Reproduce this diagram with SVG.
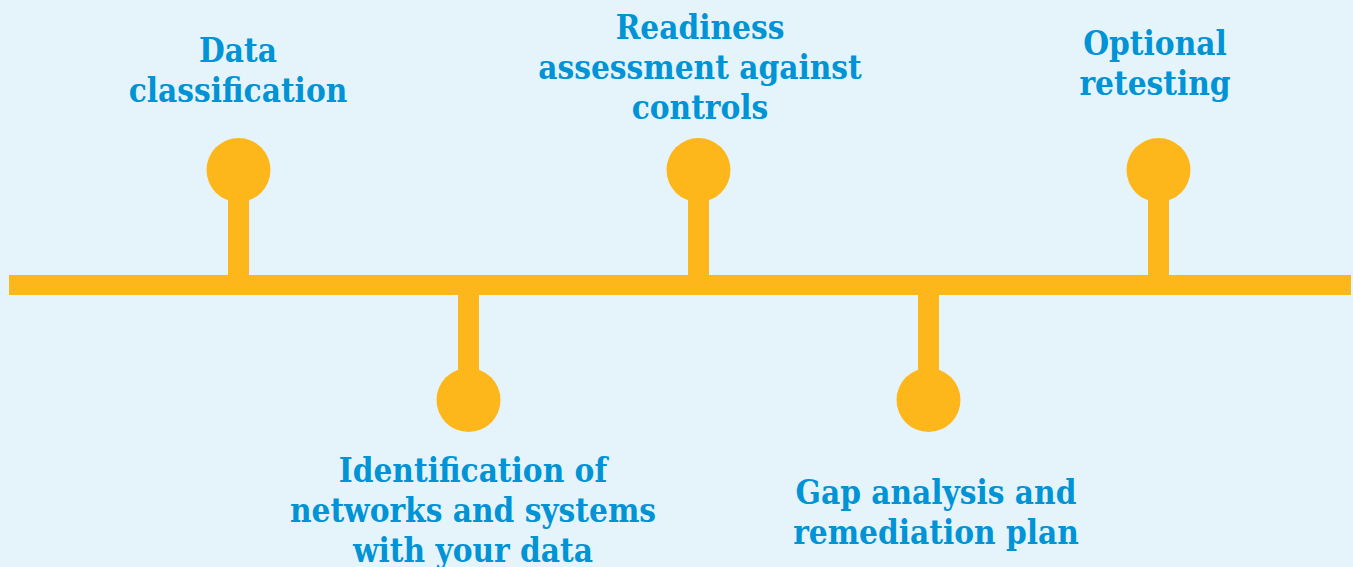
<svg xmlns="http://www.w3.org/2000/svg" width="1353" height="567" viewBox="0 0 1353 567">
<style>
.bg{fill:#E5F4FB}
.o{fill:#FEB71B}
.t{font-family:"DejaVu Serif Condensed","DejaVu Serif",serif;font-stretch:condensed;font-weight:bold;font-size:33px;fill:#0093D5;text-anchor:middle}
</style>
<rect class="bg" x="0" y="0" width="1353" height="567"/>
<g id="connectors">
<rect class="o" x="9" y="275" width="1342" height="20"/>
<rect class="o" x="228" y="170" width="21" height="106"/>
<rect class="o" x="458" y="294" width="21" height="106"/>
<rect class="o" x="688" y="170" width="21" height="106"/>
<rect class="o" x="918" y="294" width="21" height="106"/>
<rect class="o" x="1148" y="170" width="21" height="106"/>
</g>
<g id="n1">
<circle class="o" cx="238.5" cy="170" r="32"/>
<text class="t" x="238" y="62">Data</text>
<text class="t" x="238" y="102">classification</text>
</g>
<g id="n2">
<circle class="o" cx="468.5" cy="400" r="32"/>
<text class="t" x="473" y="482">Identification of</text>
<text class="t" x="473" y="522">networks and systems</text>
<text class="t" x="473" y="562">with your data</text>
</g>
<g id="n3">
<circle class="o" cx="698.5" cy="170" r="32"/>
<text class="t" x="700" y="39">Readiness</text>
<text class="t" x="700" y="79">assessment against</text>
<text class="t" x="700" y="119">controls</text>
</g>
<g id="n4">
<circle class="o" cx="928.5" cy="400" r="32"/>
<text class="t" x="936" y="504">Gap analysis and</text>
<text class="t" x="936" y="544">remediation plan</text>
</g>
<g id="n5">
<circle class="o" cx="1158.5" cy="170" r="32"/>
<text class="t" x="1155" y="55">Optional</text>
<text class="t" x="1155" y="95">retesting</text>
</g>
</svg>
